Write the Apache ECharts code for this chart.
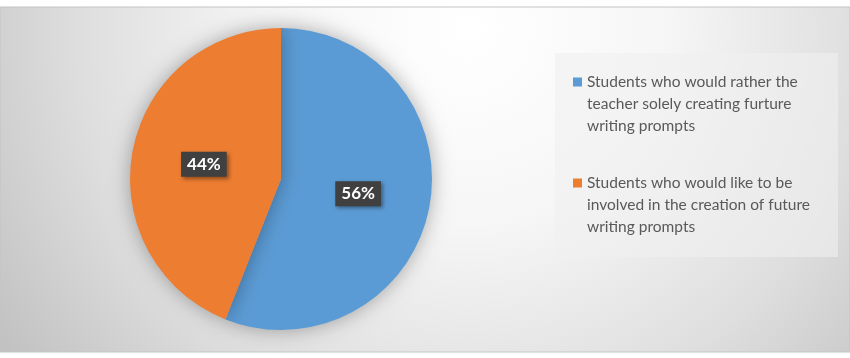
<!DOCTYPE html>
<html>
<head>
<meta charset="utf-8">
<script src="https://cdn.jsdelivr.net/npm/echarts@6/dist/echarts.min.js"></script>
<style>
html,body{margin:0;padding:0;background:#fff;}
#c{width:850px;height:358px;}
</style>
</head>
<body>
<div id="c"></div>
<script>
const categories = [
  "Students who would rather the teacher solely creating furture writing prompts",
  "Students who would like to be involved in the creation of future writing prompts"
];
const legendLines = [
  ["Students who would rather the", "teacher solely creating furture", "writing prompts"],
  ["Students who would like to be", "involved in the creation of future", "writing prompts"]
];
const values = [56, 44];
const colors = ["#5b9bd5", "#ed7d31"];

const chart = echarts.init(document.getElementById('c'), null, {renderer: 'canvas'});

function legendFor(i, top) {
  return {
    data: [categories[i]],
    orient: 'vertical',
    left: 573,
    top: top,
    padding: 0,
    itemWidth: 9,
    itemHeight: 9,
    icon: 'rect',
    selectedMode: false,
    formatter: function () { return '\n\n' + legendLines[i].join('\n'); },
    textStyle: {
      fontFamily: 'Lato',
      fontSize: 15.5,
      lineHeight: 22,
      color: '#595959'
    }
  };
}

chart.setOption({
  animation: false,
  color: colors,
  graphic: [
    {
      type: 'rect',
      silent: true,
      z: -10,
      shape: {x: 0, y: 7, width: 850, height: 345},
      style: {
        fill: {
          type: 'radial', x: 470, y: 30, r: 560, global: true,
          colorStops: [
            {offset: 0, color: '#ffffff'},
            {offset: 0.35, color: '#f6f6f6'},
            {offset: 0.7, color: '#dedede'},
            {offset: 1, color: '#c2c2c2'}
          ]
        },
        stroke: '#c4c4c4',
        lineWidth: 1
      }
    },
    {
      type: 'rect',
      silent: true,
      z: -9,
      shape: {x: 555, y: 53, width: 283, height: 204},
      style: {fill: 'rgba(240,240,240,0.6)'}
    }
  ],
  legend: [legendFor(0, 27), legendFor(1, 128)],
  series: [{
    type: 'pie',
    center: [281, 179],
    radius: [0, 151],
    startAngle: 90,
    clockwise: true,
    silent: true,
    itemStyle: {
      borderWidth: 0,
      shadowBlur: 20,
      shadowColor: 'rgba(0,0,0,0.32)'
    },
    label: {
      show: true,
      position: 'inside',
      formatter: '{c}%',
      fontFamily: 'Lato',
      fontWeight: 'bold',
      fontSize: 17,
      color: '#ffffff',
      backgroundColor: '#404040',
      padding: [4, 6],
      shadowBlur: 4,
      shadowOffsetX: 2,
      shadowOffsetY: 2,
      shadowColor: 'rgba(0,0,0,0.4)'
    },
    labelLine: {show: false},
    data: categories.map((n, i) => ({name: n, value: values[i]}))
  }]
});
</script>
</body>
</html>
